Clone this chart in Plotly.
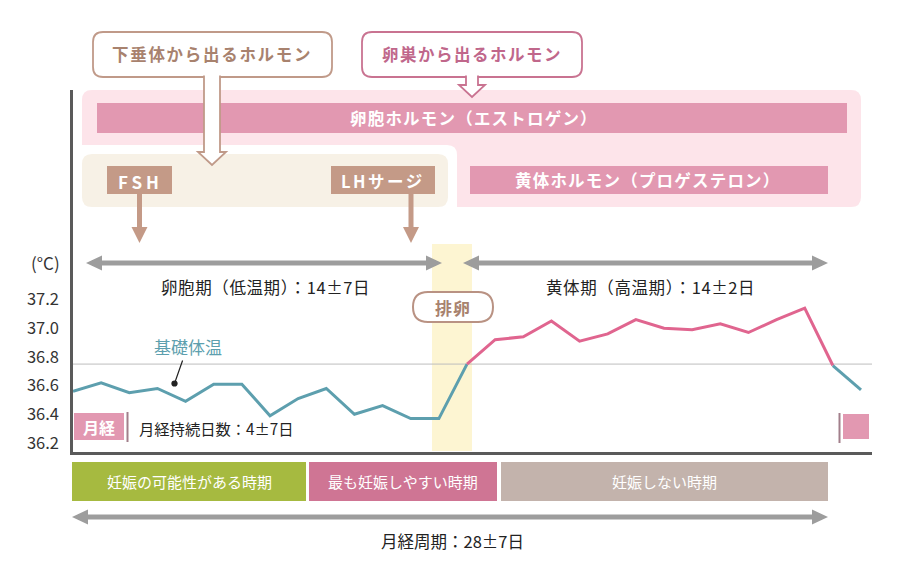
import plotly.graph_objects as go

# ---------------- data ----------------
days = list(range(29))
temps = [36.56, 36.62, 36.55, 36.58, 36.49, 36.61, 36.61, 36.39, 36.51, 36.58,
         36.40, 36.46, 36.37, 36.37, 36.75, 36.92, 36.94, 37.05, 36.91, 36.96,
         37.06, 37.00, 36.99, 37.03, 36.97, 37.06, 37.14, 36.74, 36.57]
low_phase_end = 14      # index where the line turns pink
high_phase_end = 27     # index where it turns back to teal
ref_temp = 36.75        # thin reference line
y_ticks = [36.2, 36.4, 36.6, 36.8, 37.0, 37.2]
y_ticktext = ["36.2", "36.4", "36.6", "36.8", "37.0", "37.2"]

FONT = "Noto Sans CJK JP"
TEAL = "#5d9fae"
PINK = "#e0658f"

# plot-area pixel frame in page pixels (used only for decoration placement)
L, R, T, B = 73, 872, 90, 452
OFF = 8               # page body margin
W, H = 900 - OFF, 580 - OFF


def px(x):
    return (x - L) / (R - L)


def py(y):
    return (B - y) / (B - T)


def P(x, y):
    return f"{px(x):.5f},{py(y):.5f}"


def rrect(x0, y0, x1, y1, r):
    return ("M " + P(x0 + r, y0) + " L " + P(x1 - r, y0) + " Q " + P(x1, y0) + " " + P(x1, y0 + r)
            + " L " + P(x1, y1 - r) + " Q " + P(x1, y1) + " " + P(x1 - r, y1)
            + " L " + P(x0 + r, y1) + " Q " + P(x0, y1) + " " + P(x0, y1 - r)
            + " L " + P(x0, y0 + r) + " Q " + P(x0, y0) + " " + P(x0 + r, y0) + " Z")


def poly(points, close=True):
    s = "M " + P(*points[0]) + "".join(" L " + P(x, y) for x, y in points[1:])
    return s + (" Z" if close else "")


shapes = []
ann = []


def add_path(path, fill=None, line=None, lw=0, layer="above"):
    shapes.append(dict(type="path", xref="paper", yref="paper", path=path,
                       fillcolor=fill if fill else "rgba(0,0,0,0)",
                       line=dict(color=line if line else "rgba(0,0,0,0)", width=lw),
                       layer=layer))


def add_rect(x0, y0, x1, y1, fill, layer="above"):
    shapes.append(dict(type="rect", xref="paper", yref="paper",
                       x0=px(x0), x1=px(x1), y0=py(y1), y1=py(y0),
                       fillcolor=fill, line=dict(width=0), layer=layer))


def add_text(x, y, text, size=15, color="#222", bold=False, xanchor="center", spacing=0):
    if spacing:
        text = f'<span style="letter-spacing:{spacing}px">{text}</span>'
    ann.append(dict(xref="paper", yref="paper", x=px(x), y=py(y), text=text,
                    showarrow=False, xanchor=xanchor, yanchor="middle",
                    font=dict(family=FONT, size=size, color=color,
                              weight=700 if bold else 400)))


def double_arrow(x0, x1, y, color="#9d9d9d"):
    hl, hh, t = 16, 7.5, 2.6
    add_path(poly([(x0, y), (x0 + hl, y - hh), (x0 + hl, y - t), (x1 - hl, y - t),
                   (x1 - hl, y - hh), (x1, y), (x1 - hl, y + hh), (x1 - hl, y + t),
                   (x0 + hl, y + t), (x0 + hl, y + hh)]), fill=color)


def down_arrow(xc, y0, y1, color="#c49a87"):
    t, hh, hl = 2.5, 8, 16
    add_path(poly([(xc - t, y0), (xc + t, y0), (xc + t, y1 - hl), (xc + hh, y1 - hl),
                   (xc, y1), (xc - hh, y1 - hl), (xc - t, y1 - hl)]), fill=color)


# ---------- hormone panel ----------
add_path(rrect(82, 90, 861, 207, 10), fill="#fde4ea")
add_path("M " + P(76, 145) + " L " + P(447, 145) + " Q " + P(457, 145) + " " + P(457, 155)
         + " L " + P(457, 215) + " L " + P(76, 215) + " Z", fill="#ffffff")
add_path(rrect(82, 154, 448, 207, 10), fill="#f7f1e6")
add_rect(97, 103, 847, 133, "#e298b1")
add_rect(470, 166, 828, 194, "#e298b1")
add_text(474, 118, "卵胞ホルモン（エストロゲン）", size=16.5, color="#ffffff", bold=True, spacing=1.2)
add_text(648, 180, "黄体ホルモン（プロゲステロン）", size=16.5, color="#ffffff", bold=True, spacing=1.2)

# FSH / LH boxes
add_rect(107, 166, 172, 194, "#c49a87")
add_rect(331, 166, 435, 194, "#c49a87")
add_text(140, 181, "FSH", size=17, color="#ffffff", bold=True, spacing=4)
add_text(383, 181, "LHサージ", size=16.5, color="#ffffff", bold=True, spacing=2.5)
down_arrow(139.5, 194, 243)
down_arrow(411, 194, 243)

# callout boxes
add_path(rrect(93, 32, 332, 77, 10), fill="#ffffff", line="#c09a89", lw=1.8)
add_text(212, 54, "下垂体から出るホルモン", size=16.5, color="#a8826e", bold=True, spacing=1.7)
add_path(poly([(204, 75.5), (204, 152), (198, 152), (212, 165), (226, 152), (220, 152), (220, 75.5)],
              close=False), fill="#ffffff", line="#c09a89", lw=1.8)
add_path(rrect(362, 32, 582, 77, 10), fill="#ffffff", line="#c97391", lw=1.8)
add_text(472, 54, "卵巣から出るホルモン", size=16.5, color="#c0678b", bold=True, spacing=1.5)
add_path(poly([(466, 75.5), (466, 85), (459, 85), (472, 97), (485, 85), (478, 85), (478, 75.5)],
              close=False), fill="#ffffff", line="#c97391", lw=1.8)

# ---------- phase arrows ----------
double_arrow(86, 442, 263)
double_arrow(463, 828, 263)
add_text(265, 287, "卵胞期（低温期）：14±7日", size=16.5, spacing=0.6)
add_text(650, 287, "黄体期（高温期）：14±2日", size=16.5, spacing=0.6)
add_text(45, 262, "(°C)", size=17, color="#333")

# ovulation band (below the line)
add_rect(432, 244, 472, 451, "#fdf5d2", layer="below")
shapes.append(dict(type="line", xref="paper", yref="y", x0=0, x1=1, y0=ref_temp, y1=ref_temp,
                   line=dict(color="#bdbdbd", width=1), layer="below"))
add_path(rrect(413, 292, 493, 322, 15), fill="#ffffff", line="#b99283", lw=2)
add_text(453, 307, "排卵", size=17, color="#a8826e", bold=True, spacing=1)

# menstruation markers
add_rect(74, 413, 124, 440, "#e298b1")
add_text(99, 427, "月経", size=16, color="#ffffff", bold=True)
shapes.append(dict(type="line", xref="paper", yref="paper", x0=px(127.5), x1=px(127.5),
                   y0=py(442), y1=py(412), line=dict(color="#a27f8b", width=2)))
add_text(137, 428, "月経持続日数：4±7日", size=15.3, xanchor="left")
add_rect(843, 414, 869, 439, "#e298b1")
shapes.append(dict(type="line", xref="paper", yref="paper", x0=px(839.5), x1=px(839.5),
                   y0=py(443), y1=py(413), line=dict(color="#a27f8b", width=2)))

# basal temperature label with leader
ann.append(dict(xref="paper", yref="paper", x=px(174.5), y=py(383.5), ax=13, ay=-37,
                text="基礎体温", showarrow=True, arrowhead=6, arrowsize=1.3, arrowwidth=1.2,
                arrowcolor="#222", font=dict(family=FONT, size=17, color=TEAL)))

# ---------- bottom period boxes ----------
add_rect(72, 462, 306, 501, "#a6ba40")
add_rect(309, 462, 497, 501, "#cf7594")
add_rect(501, 462, 828, 501, "#c3b3ac")
add_text(189, 481, "妊娠の可能性がある時期", size=15, color="#ffffff")
add_text(403, 481, "最も妊娠しやすい時期", size=15, color="#ffffff")
add_text(664, 481, "妊娠しない時期", size=15, color="#ffffff")
double_arrow(72, 828, 517)
add_text(452, 541, "月経周期：28±7日", size=16.5)

# ---------- figure ----------
fig = go.Figure()
seg = [(0, low_phase_end, TEAL), (low_phase_end, high_phase_end, PINK), (high_phase_end, len(days) - 1, TEAL)]
for a, b, c in seg:
    fig.add_trace(go.Scatter(x=days[a:b + 1], y=temps[a:b + 1], mode="lines",
                             line=dict(color=c, width=3), hoverinfo="skip", showlegend=False,
                             cliponaxis=False))

x_max = (R - L) / ((861 - 73) / 28)
y_per_px = 1 / 143.5
fig.update_layout(
    width=W, height=H,
    margin=dict(l=L - OFF, r=W - (R - OFF), t=T - OFF, b=H - (B - OFF), pad=0),
    paper_bgcolor="#ffffff", plot_bgcolor="rgba(0,0,0,0)",
    shapes=shapes, annotations=ann,
    xaxis=dict(range=[0, x_max], showgrid=False, zeroline=False, showticklabels=False,
               showline=True, linecolor="#5a5a5a", linewidth=2.5, fixedrange=True),
    yaxis=dict(range=[36.2 - (B - 443) * y_per_px, 36.2 + (443 - T) * y_per_px], showgrid=False,
               zeroline=False, tickvals=y_ticks, ticktext=y_ticktext, ticks="", ticklabelstandoff=8,
               tickfont=dict(family=FONT, size=16.5, color="#333"),
               showline=True, linecolor="#5a5a5a", linewidth=2.5, fixedrange=True),
    font=dict(family=FONT),
)
fig.write_html("out.html")
